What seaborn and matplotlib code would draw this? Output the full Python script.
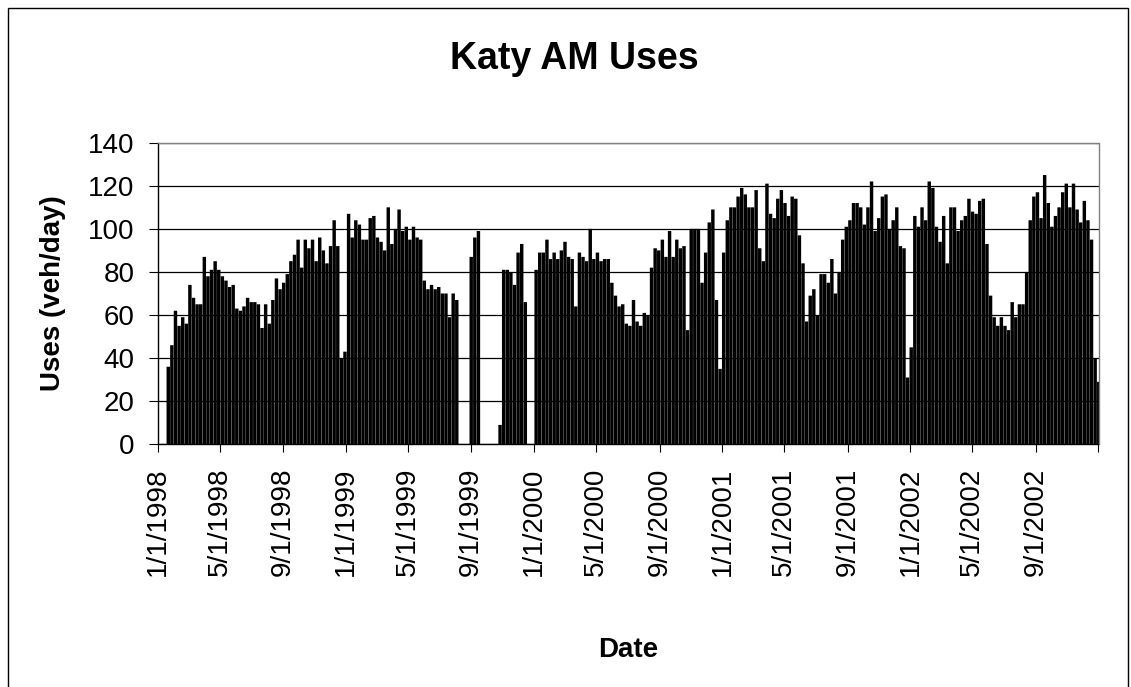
import matplotlib
matplotlib.use('Agg')
import matplotlib.pyplot as plt
import matplotlib.dates as mdates
from matplotlib.patches import Rectangle
import seaborn as sns
import pandas as pd

# AM uses (veh/day), one value per week (Mon-Fri), weeks start on Sunday
FIRST_WEEK = '1998-01-18'
USES_1998 = [36, 46, 62, 55, 59, 56, 74, 68, 65, 65, 87, 78, 81, 85, 81, 78, 76,
             73, 74, 63, 62, 64, 68, 66, 66, 65, 54, 65, 56,
             67, 77, 72, 75, 79, 85, 88, 95, 82, 95, 91, 95, 85, 96, 90, 84, 92,
             104, 92, 40, 43]
USES_1999 = [107, 96, 104, 102, 95, 95, 105, 106, 96, 94, 90,
             110, 93, 100, 109, 99, 101, 95, 101, 96, 95, 76, 72, 74, 72, 73,
             70, 70, 59, 70, 67, 0, 0, 0, 87, 96, 99,
             0, 0, 0, 0, 0,
             9, 81, 81, 80, 74, 89, 93, 66, 0, 0]
USES_2000 = [81, 89, 89, 95, 86, 89, 86, 90, 94, 87, 86, 64, 89, 87, 85, 100,
             86, 89, 85, 86, 86, 75,
             69, 64, 65, 56, 55, 67, 57, 55, 61, 60, 82, 91, 90, 95, 87, 99, 87,
             95, 91, 92, 53, 100, 100, 100, 75, 89, 103, 109, 67, 35]
USES_2001 = [89, 104, 110,
             110, 115, 119, 116, 110, 110, 118, 91, 85, 121, 107, 105, 114, 118,
             112, 106, 115, 114, 97, 84, 57, 69, 72, 60, 79, 79, 75, 86, 70, 80, 95,
             101, 104, 112, 112, 110, 102, 110, 122, 99, 105, 115, 116, 100, 104,
             110, 92, 91, 31]
USES_2002 = [45, 106, 101, 110, 104, 122, 119, 101, 94, 106, 84, 110, 110, 99,
             104, 106, 114, 108, 107, 113, 114, 93, 69, 59, 55, 59, 55, 53, 66,
             59, 65, 65, 80, 104, 115, 117, 105, 125, 112, 101, 106, 110, 117,
             121, 110, 121, 109, 103, 113, 104, 95, 40, 29]

TICK_LABELS = ['1/1/1998', '5/1/1998', '9/1/1998', '1/1/1999', '5/1/1999',
               '9/1/1999', '1/1/2000', '5/1/2000', '9/1/2000', '1/1/2001',
               '5/1/2001', '9/1/2001', '1/1/2002', '5/1/2002', '9/1/2002']
Y_TICKS = [0, 20, 40, 60, 80, 100, 120, 140]

uses = USES_1998 + USES_1999 + USES_2000 + USES_2001 + USES_2002
edges = mdates.date2num(pd.date_range(FIRST_WEEK, periods=len(uses) + 1, freq='7D'))
df = pd.DataFrame({'week': edges[:-1] + 3.5, 'uses': uses})

sns.set_style('white')
plt.rcParams['font.family'] = ['Liberation Sans', 'DejaVu Sans']
plt.rcParams['text.color'] = 'black'

W, H = 1131, 687
fig = plt.figure(figsize=(W / 100, H / 100), dpi=100)
ax = fig.add_axes([157.7 / W, 1 - 444.3 / H, (1098.5 - 157.7) / W, (444.3 - 142.7) / H])

sns.histplot(data=df, x='week', weights='uses', bins=[float(e) for e in edges],
             shrink=0.95, color='black', alpha=1, linewidth=0, ax=ax)
# let the weekend gaps show as faint hairlines instead of snapped white columns
for bar in ax.patches:
    bar.set_snap(False)

ax.set_xlim(mdates.date2num(pd.Timestamp('1998-01-01')),
            mdates.date2num(pd.Timestamp('2003-01-01')))
ax.set_ylim(0, 140)
ax.set_yticks(Y_TICKS)
ax.set_yticklabels([str(v) for v in Y_TICKS], fontsize=20)
tick_pos = mdates.date2num(pd.to_datetime(TICK_LABELS, format='%m/%d/%Y'))
ax.set_xticks(list(tick_pos) + [ax.get_xlim()[1]])
ax.set_xticklabels(TICK_LABELS + [''], fontsize=20, rotation=90)
ax.set_xlabel('')
ax.set_ylabel('')

ax.set_axisbelow(True)
ax.yaxis.grid(True, color='black', linewidth=0.9)
ax.xaxis.grid(False)
ax.tick_params(axis='y', direction='out', length=6.8, width=0.8, pad=10,
               left=True, colors='black', labelcolor='black')
ax.tick_params(axis='x', direction='out', length=6, width=0.8, pad=11,
               bottom=True, colors='black', labelcolor='black')
for side in ['left', 'bottom']:
    ax.spines[side].set_color('black')
    ax.spines[side].set_linewidth(1)
for side in ['top', 'right']:
    ax.spines[side].set_color('#808080')
    ax.spines[side].set_linewidth(1)

fig.text(574 / W, 1 - 69.3 / H, 'Katy AM Uses', ha='center', va='baseline',
         fontsize=27, fontweight='bold', color='black')
fig.text(53 / W, 1 - 293 / H, 'Uses (veh/day)', ha='center', va='center',
         rotation=90, fontsize=20, fontweight='bold', color='black')
fig.text(628 / W, 1 - 657 / H, 'Date', ha='center', va='baseline',
         fontsize=20, fontweight='bold', color='black')

fig.patches.append(Rectangle((8 / W, -0.05), 1120 / W, 1.05 - 8 / H,
                             transform=fig.transFigure, fill=False,
                             edgecolor='black', linewidth=1))

fig.savefig('out.png', dpi=100)
